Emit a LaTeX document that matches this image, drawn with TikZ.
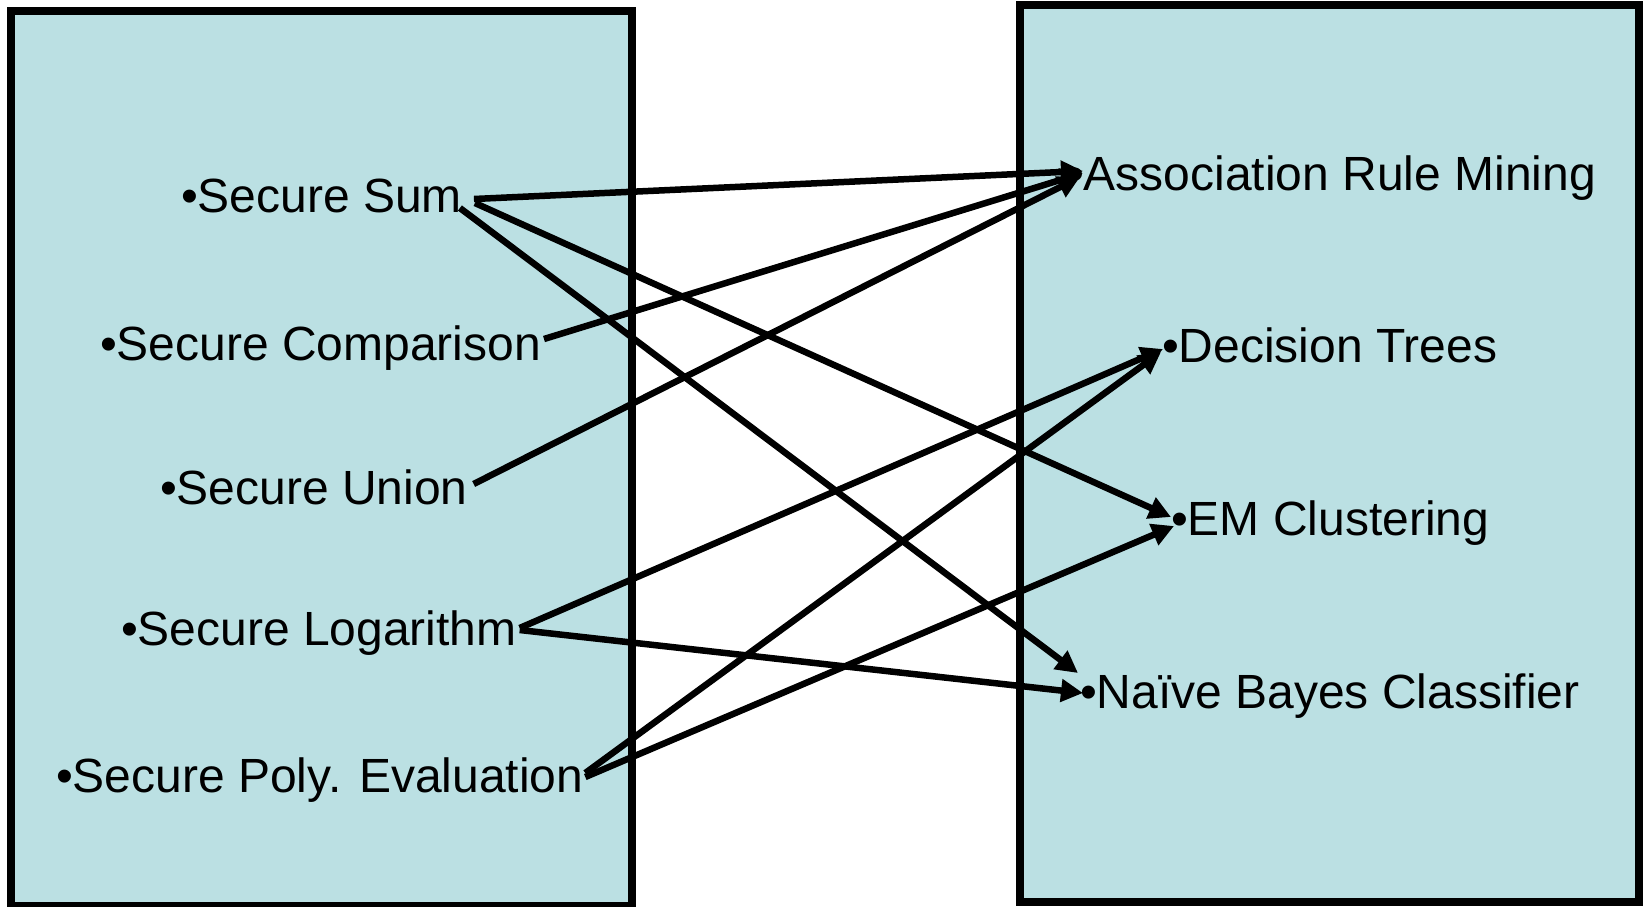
\documentclass[tikz,border=0pt]{standalone}
\usepackage{fontspec}
\setmainfont{Liberation Sans}
\usetikzlibrary{arrows.meta,calc}
\definecolor{panelfill}{RGB}{187,224,227}
\begin{document}
\begin{tikzpicture}[x=1pt,y=-1pt,
  panel/.style={draw=black,line width=8pt,fill=panelfill},
  item/.style={anchor=base west,inner sep=0pt,outer sep=0pt,
    font=\fontsize{48}{56}\selectfont},
  link/.style={line width=6.5pt,-{Triangle[length=22pt,width=22pt]}}]
\useasboundingbox (0,0) rectangle (1643,906);

% the two panels
\draw[panel] (11,11) rectangle (632,906);
\draw[panel] (1020,5) rectangle (1639,902);

% secure building blocks
\node[item] (sum)  at (181,212) {•Secure Sum};
\node[item] (comp) at (100,360) {•Secure Comparison};
\node[item] (uni)  at (160,504) {•Secure Union};
\node[item] (log)  at (121,645) {•Secure Logarithm};
\node[item] (poly) at (56,792)  {•Secure Poly. Evaluation};

% data mining algorithms
\node[item] (arm) at (1067,190) {•Association Rule Mining};
\node[item] (dt)  at (1162,362) {•Decision Trees};
\node[item] (em)  at (1171,535) {•EM Clustering};
\node[item] (nbc) at (1080,708) {•Naïve Bayes Classifier};

% which primitive is used by which algorithm
\draw[link] ($(sum.base east)+(12,-13)$)  -- ($(arm.base west)+(16,-19)$);
\draw[link] ($(sum.base east)+(13,-9)$)   -- ($(em.base west)+(0,-18)$);
\draw[link] ($(sum.base east)+(-2,-4)$)   -- ($(nbc.base west)+(-2,-35)$);
\draw[link] ($(comp.base east)+(3,-21)$)  -- ($(arm.base west)+(16,-17)$);
\draw[link] ($(uni.base east)+(6,-20)$)   -- ($(arm.base west)+(13,-13)$);
\draw[link] ($(log.base east)+(3,-17)$)   -- ($(dt.base west)+(1,-13)$);
\draw[link] ($(log.base east)+(3,-15)$)   -- ($(nbc.base west)+(3,-15)$);
\draw[link] ($(poly.base east)+(2,-19)$)  -- ($(dt.base west)+(-1,-10)$);
\draw[link] ($(poly.base east)+(2,-15)$)  -- ($(em.base west)+(3,-9)$);
\end{tikzpicture}
\end{document}
